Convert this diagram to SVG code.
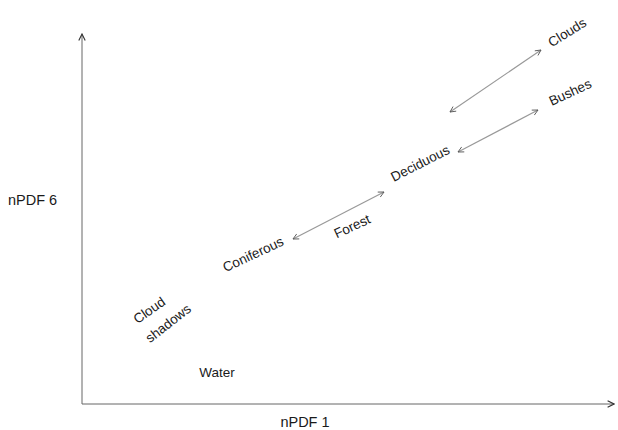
<svg xmlns="http://www.w3.org/2000/svg" width="618" height="430" viewBox="0 0 618 430">
<defs>
<marker id="ah" viewBox="0 0 10 10" refX="9" refY="5" markerWidth="7" markerHeight="7" orient="auto-start-reverse" markerUnits="userSpaceOnUse">
<path d="M1,1 L9,5 L1,9" fill="none" stroke="#555" stroke-width="1.2"/>
</marker>
<marker id="ax" viewBox="0 0 10 10" refX="9" refY="5" markerWidth="8" markerHeight="8" orient="auto" markerUnits="userSpaceOnUse">
<path d="M1,1 L9,5 L1,9" fill="none" stroke="#333" stroke-width="1.4"/>
</marker>
<style>
text{font-family:"Liberation Sans",Arial,sans-serif;font-size:13.5px;fill:#1a1a1a;}
.ax{font-size:14.5px;}
.c{stroke:#999;stroke-width:1.2;fill:none;}
.axis{stroke:#666;stroke-width:1;fill:none;}
</style>
</defs>
<rect width="618" height="430" fill="#fff"/>
<g id="axes">
<path class="axis" d="M82,404 L82,34" marker-end="url(#ax)"/>
<path class="axis" d="M82,404 L614,404" marker-end="url(#ax)"/>
</g>
<g id="connectors">
<path class="c" d="M450,112 L541,50" marker-start="url(#ah)" marker-end="url(#ah)"/>
<path class="c" d="M458,152 L538,110" marker-start="url(#ah)" marker-end="url(#ah)"/>
<path class="c" d="M293,239 L384,192" marker-start="url(#ah)" marker-end="url(#ah)"/>
</g>
<g id="nPDF6"><text class="ax" x="8" y="205">nPDF 6</text></g>
<g id="nPDF1"><text class="ax" x="305" y="427" text-anchor="middle">nPDF 1</text></g>
<g id="clouds"><text x="567" y="37" text-anchor="middle" transform="rotate(-32 567 32)">Clouds</text></g>
<g id="bushes"><text x="570" y="97" text-anchor="middle" transform="rotate(-25 570 92)">Bushes</text></g>
<g id="deciduous"><text x="420" y="168" text-anchor="middle" transform="rotate(-27 420 163)">Deciduous</text></g>
<g id="forest"><text x="352" y="231" text-anchor="middle" transform="rotate(-25 352 226)">Forest</text></g>
<g id="coniferous"><text x="253" y="259" text-anchor="middle" transform="rotate(-25 253 254)">Coniferous</text></g>
<g id="cloudshadows">
<text x="149" y="315" text-anchor="middle" transform="rotate(-35 149 310)">Cloud</text>
<text x="168" y="328" text-anchor="middle" transform="rotate(-38 168 323)">shadows</text>
</g>
<g id="water"><text x="217" y="377" text-anchor="middle">Water</text></g>
</svg>
